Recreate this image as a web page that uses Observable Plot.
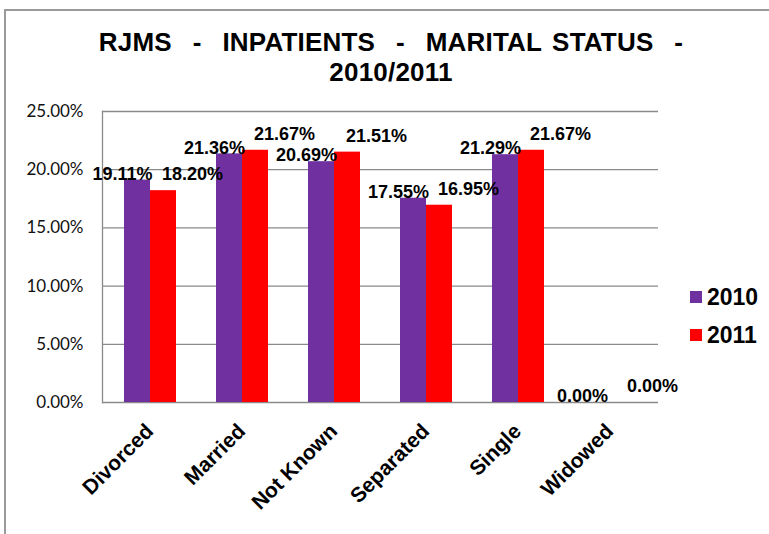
<!DOCTYPE html>
<html>
<head>
<meta charset="utf-8">
<script src="https://cdn.jsdelivr.net/npm/d3@7"></script>
<script src="https://cdn.jsdelivr.net/npm/@observablehq/plot@0.6"></script>
<style>
  html, body { margin: 0; padding: 0; background: #fff; }
  body { width: 769px; height: 534px; position: relative; overflow: hidden; font-family: "Liberation Sans", Arial, sans-serif; }
  #border { position: absolute; left: 4px; top: 9px; width: 780px; height: 540px; border-top: 2px solid #9a9a9a; border-left: 2px solid #9a9a9a; }
  #title { position: absolute; left: 0; top: 27px; width: 782px; text-align: center; font-weight: bold; font-size: 26px; line-height: 30px; color: #000; white-space: pre; letter-spacing: 0.2px; }
  #title .l1 { word-spacing: 3px; }
  #chart { position: absolute; left: 0; top: 0; }
  .sw { position: absolute; width: 12px; height: 12px; }
  .lt { position: absolute; left: 707px; font-weight: bold; font-size: 23px; line-height: 23px; color: #000; }
</style>
</head>
<body>
<div id="border"></div>
<div id="title"></div>
<div id="chart"></div>
<div id="legend"></div>
<script>
const titleLines = ["RJMS  -  INPATIENTS  -  MARITAL STATUS  -", "2010/2011"];
const categories = ["Divorced", "Married", "Not Known", "Separated", "Single", "Widowed"];
const series = ["2010", "2011"];
const values2010 = [0.1911, 0.2136, 0.2069, 0.1755, 0.2129, 0.0];
const values2011 = [0.1820, 0.2167, 0.2151, 0.1695, 0.2167, 0.0];
const yTicks = [0, 0.05, 0.10, 0.15, 0.20, 0.25];
const colors = ["#7030A0", "#FF0000"];

const titleEl = document.getElementById("title");
titleLines.forEach((t, i) => {
  const s = document.createElement("div");
  s.className = "l" + (i + 1);
  s.textContent = t;
  titleEl.appendChild(s);
});

const rows = [];
categories.forEach((c, i) => {
  rows.push({category: c, year: series[0], value: values2010[i]});
  rows.push({category: c, year: series[1], value: values2011[i]});
});
const r2010 = rows.filter(d => d.year === series[0]);
const r2011 = rows.filter(d => d.year === series[1]);
const fmt = d3.format(".2%");
const font = "Liberation Sans, Arial, sans-serif";

const chart = Plot.plot({
  width: 769,
  height: 534,
  marginTop: 111,
  marginBottom: 132,
  marginLeft: 102,
  marginRight: 111,
  style: {fontFamily: font, background: "transparent", overflow: "visible"},
  x: {domain: categories, paddingInner: 0.44, paddingOuter: 0.22, axis: null},
  y: {domain: [0, 0.25], axis: null},
  marks: [
    Plot.ruleY(yTicks, {stroke: "#8a8a8a", strokeWidth: 1.3}),
    Plot.frame({anchor: "left", stroke: "#8a8a8a", strokeWidth: 1.3}),
    Plot.barY(r2010, {x: "category", y: "value", fill: colors[0], insetRight: 26, insetLeft: 0}),
    Plot.barY(r2011, {x: "category", y: "value", fill: colors[1], insetLeft: 26, insetRight: 0}),
    Plot.axisY(yTicks, {label: null, tickFormat: fmt, tickSize: 0, tickPadding: 19, fontSize: 17, fontFamily: "Lato, sans-serif", fill: "#111"}),
    Plot.text(r2010, {x: "category", y: "value", text: d => fmt(d.value), dx: -28, dy: -6, fontSize: 18, fontWeight: "bold", fill: "#000"}),
    Plot.text(r2011, {x: "category", y: "value", text: d => fmt(d.value), dx: 42, dy: -16, fontSize: 18, fontWeight: "bold", fill: "#000"}),
    Plot.text(categories, {x: d => d, frameAnchor: "bottom", rotate: -45, textAnchor: "end", lineAnchor: "bottom", dx: 4, dy: 30, fontSize: 21, fontWeight: "bold", fill: "#000"})
  ]
});
document.getElementById("chart").appendChild(chart);

const legend = document.getElementById("legend");
const legTops = [285.5, 323.5];
const swTops = [291, 328.5];
series.forEach((s, i) => {
  const sw = document.createElement("div");
  sw.className = "sw";
  sw.style.left = "690px";
  sw.style.top = swTops[i] + "px";
  sw.style.background = colors[i];
  legend.appendChild(sw);
  const t = document.createElement("div");
  t.className = "lt";
  t.style.top = legTops[i] + "px";
  t.textContent = s;
  legend.appendChild(t);
});
</script>
</body>
</html>
